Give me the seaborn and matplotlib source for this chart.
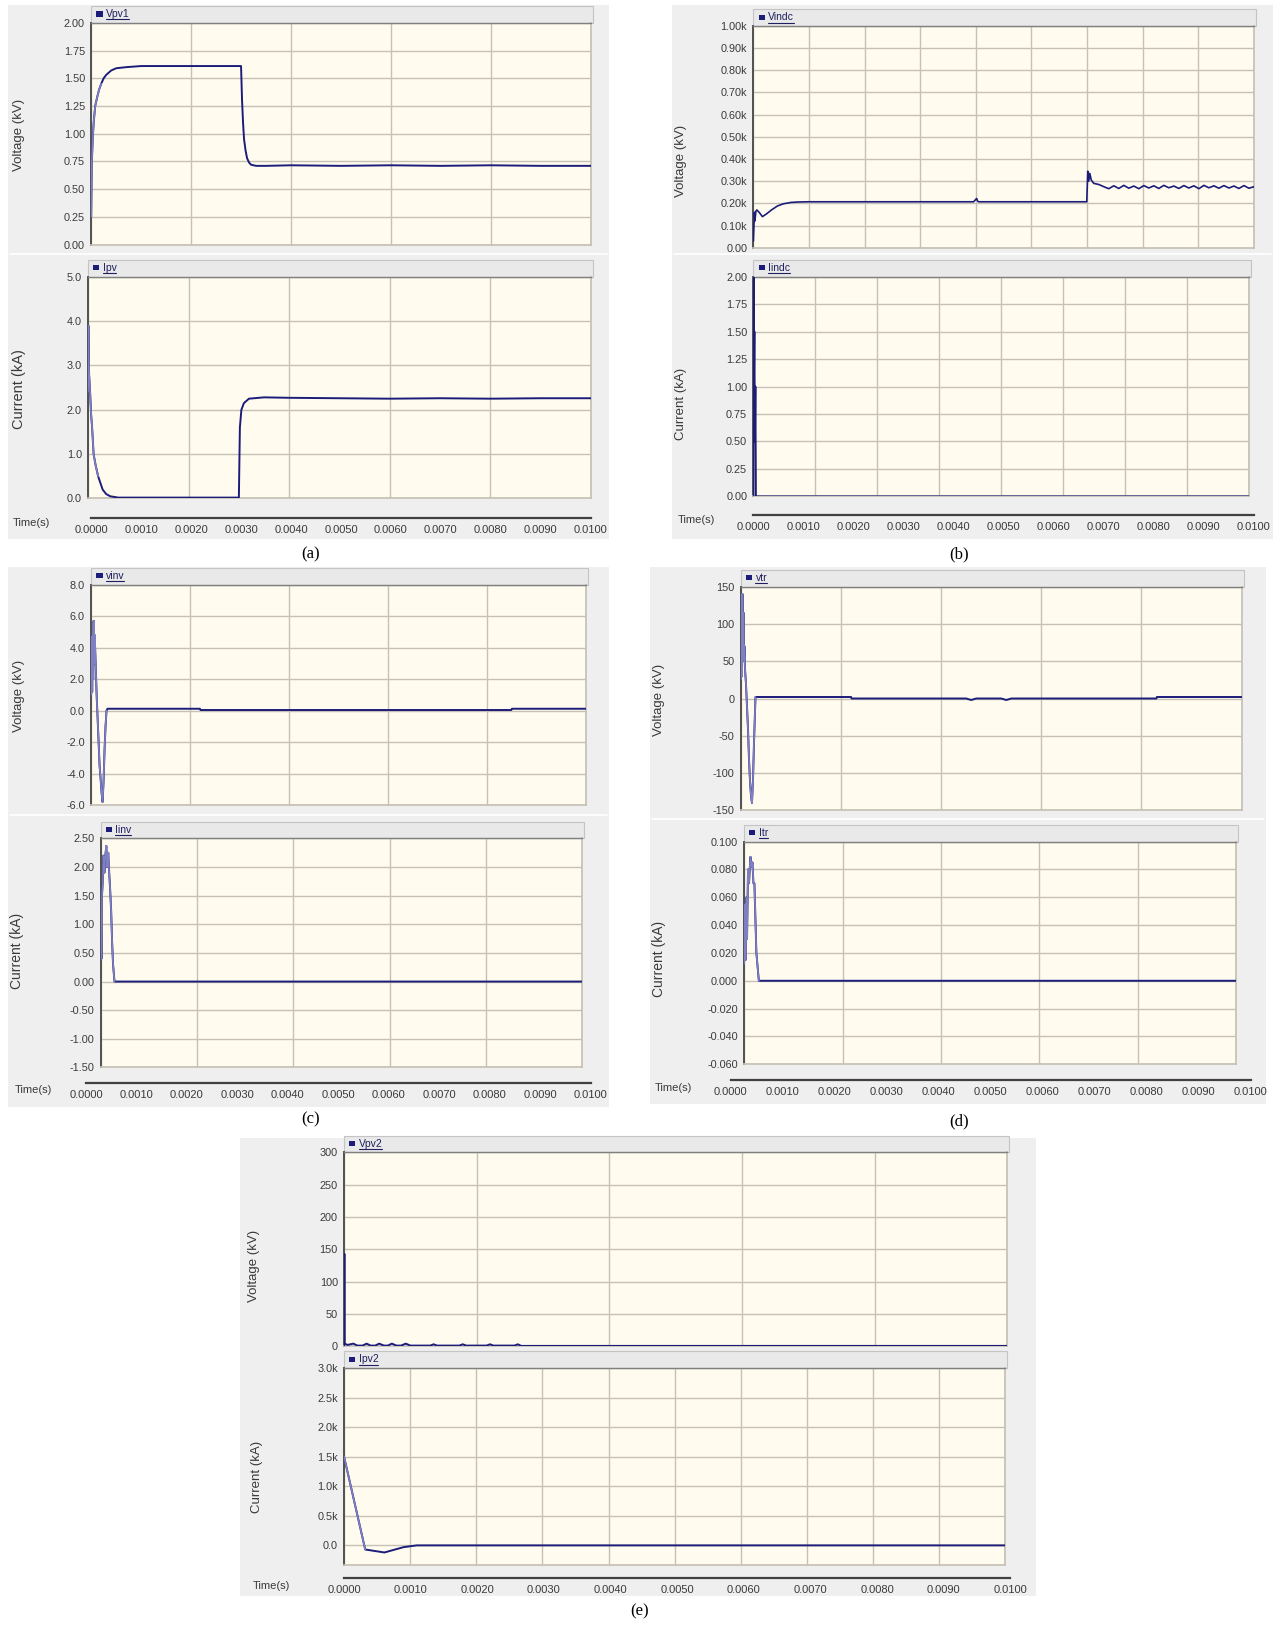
import numpy as np
import matplotlib
matplotlib.use('Agg')
import matplotlib.pyplot as plt
from matplotlib.patches import Rectangle
from matplotlib.lines import Line2D
import seaborn as sns

# ---------------- valores ----------------
# eixo do tempo (comum)
t_ticks = [0.0, 0.001, 0.002, 0.003, 0.004, 0.005, 0.006, 0.007, 0.008, 0.009, 0.010]
t_labels = ['0.0000', '0.0010', '0.0020', '0.0030', '0.0040', '0.0050',
            '0.0060', '0.0070', '0.0080', '0.0090', '0.0100']

# (a) Vpv1 [kV]
t_vpv1 = [0, 0.00001, 0.00003, 0.00005, 0.00008, 0.00012, 0.00016, 0.0002, 0.00025, 0.0003,
          0.0004, 0.0005, 0.0007, 0.001, 0.002, 0.00300, 0.00302, 0.00304, 0.00306, 0.00309,
          0.00312, 0.00316, 0.0032, 0.0033, 0.0035, 0.004, 0.005, 0.006, 0.007, 0.008, 0.009, 0.01]
vpv1 = [0.25, 0.70, 0.95, 1.10, 1.25, 1.33, 1.40, 1.45, 1.50, 1.53,
        1.57, 1.59, 1.60, 1.61, 1.61, 1.61, 1.30, 1.10, 0.95, 0.85,
        0.78, 0.74, 0.72, 0.71, 0.71, 0.715, 0.71, 0.715, 0.71, 0.715, 0.71, 0.71]
yt_vpv1 = [0, 0.25, 0.5, 0.75, 1.0, 1.25, 1.5, 1.75, 2.0]
yl_vpv1 = ['0.00', '0.25', '0.50', '0.75', '1.00', '1.25', '1.50', '1.75', '2.00']

# (a) Ipv [kA]
t_ipv = [0, 0.000005, 0.00002, 0.00004, 0.00006, 0.00008, 0.00011, 0.00015, 0.0002, 0.00029,
         0.00036, 0.00044, 0.0006, 0.0030, 0.00302, 0.00305, 0.0031, 0.0032, 0.0035,
         0.004, 0.005, 0.006, 0.007, 0.008, 0.009, 0.01]
ipv = [2.4, 3.9, 2.8, 2.4, 1.9, 1.6, 1.0, 0.75, 0.5, 0.2,
       0.1, 0.05, 0.02, 0.02, 1.6, 2.0, 2.15, 2.25, 2.28,
       2.27, 2.26, 2.25, 2.26, 2.25, 2.26, 2.26]
yt_ipv = [0, 1, 2, 3, 4, 5]
yl_ipv = ['0.0', '1.0', '2.0', '3.0', '4.0', '5.0']

# (b) Vindc [kV]
t_vindc = [0, 0.00002, 0.00003, 0.00005, 0.00007, 0.00012, 0.00018, 0.00026, 0.00036, 0.00048,
           0.0006, 0.00075, 0.0009, 0.0011, 0.0044, 0.00446, 0.00448, 0.0045, 0.00666, 0.00668,
           0.00670, 0.00672, 0.00675, 0.00680, 0.00690, 0.0070,
           0.0071, 0.0072, 0.0073, 0.0074, 0.0075, 0.0076, 0.0077, 0.0078, 0.0079, 0.0080,
           0.0081, 0.0082, 0.0083, 0.0084, 0.0085, 0.0086, 0.0087, 0.0088, 0.0089, 0.0090,
           0.0091, 0.0092, 0.0093, 0.0094, 0.0095, 0.0096, 0.0097, 0.0098, 0.0099, 0.0100]
vindc = [30, 160, 120, 165, 170, 158, 140, 152, 170, 188,
         198, 204, 206, 207, 207, 222, 210, 207, 207, 345,
         300, 335, 305, 290, 285, 275,
         266, 279, 267, 281, 268, 278, 266, 280, 269, 279,
         267, 281, 270, 278, 267, 280, 269, 279, 266, 281,
         270, 279, 268, 280, 269, 278, 267, 280, 268, 275]
yt_vindc = [0, 100, 200, 300, 400, 500, 600, 700, 800, 900, 1000]
yl_vindc = ['0.00', '0.10k', '0.20k', '0.30k', '0.40k', '0.50k',
            '0.60k', '0.70k', '0.80k', '0.90k', '1.00k']

# (b) Iindc [kA]
t_iindc = [0, 0.000005, 0.00001, 0.00002, 0.00003, 0.00004, 0.00005, 0.01]
iindc = [0, 2.0, 1.0, 1.5, 0.5, 1.0, 0.0, 0.0]
yt_iindc = [0, 0.25, 0.5, 0.75, 1.0, 1.25, 1.5, 1.75, 2.0]
yl_iindc = ['0.00', '0.25', '0.50', '0.75', '1.00', '1.25', '1.50', '1.75', '2.00']

# (c) vinv [kV]
t_vinv = [0, 0.00001, 0.00002, 0.00003, 0.00004, 0.00005, 0.00006, 0.00007, 0.00009, 0.00011,
          0.00013, 0.00015, 0.00017, 0.00019, 0.00021, 0.00023, 0.00025, 0.00027, 0.00029,
          0.00031, 0.00033, 0.0022, 0.00221, 0.0085, 0.00851, 0.01]
vinv = [1.0, 4.7, 1.2, 4.8, 2.0, 5.7, 3.0, 4.8, 3.0, 1.0,
        -0.5, -2.0, -3.5, -4.3, -5.2, -5.8, -4.5, -2.5, -1.0,
        0.0, 0.12, 0.12, 0.04, 0.04, 0.12, 0.12]
yt_vinv = [-6, -4, -2, 0, 2, 4, 6, 8]
yl_vinv = ['-6.0', '-4.0', '-2.0', '0.0', '2.0', '4.0', '6.0', '8.0']

# (c) Iinv [kA]
t_iinv = [0, 0.00001, 0.00002, 0.00003, 0.00005, 0.00006, 0.00008, 0.0001, 0.00012, 0.00014,
          0.00016, 0.00018, 0.0002, 0.00022, 0.00024, 0.00026, 0.00029, 0.01]
iinv = [0.35, 1.0, 0.4, 1.5, 1.8, 2.2, 1.9, 2.2, 2.37, 2.0,
        2.25, 1.9, 1.6, 1.25, 0.7, 0.3, 0.0, 0.0]
yt_iinv = [-1.5, -1.0, -0.5, 0, 0.5, 1.0, 1.5, 2.0, 2.5]
yl_iinv = ['-1.50', '-1.00', '-0.50', '0.00', '0.50', '1.00', '1.50', '2.00', '2.50']

# (d) vtr [kV]
t_vtr = [0, 0.00001, 0.00002, 0.00003, 0.00004, 0.00005, 0.00006, 0.00007, 0.00008, 0.0001,
         0.00012, 0.00014, 0.00016, 0.00018, 0.0002, 0.00022, 0.00024, 0.00026, 0.00029,
         0.0022, 0.00221, 0.0045, 0.0046, 0.0047, 0.0052, 0.0053, 0.0054, 0.0083, 0.00831, 0.01]
vtr = [25, 140, 30, 140, 60, 115, 50, 70, 40, 20,
       -10, -40, -80, -110, -130, -140, -110, -60, 2,
       2, 0, 0, -2, 0, 0, -2, 0, 0, 2, 2]
yt_vtr = [-150, -100, -50, 0, 50, 100, 150]
yl_vtr = ['-150', '-100', '-50', '0', '50', '100', '150']

# (d) Itr [kA]
t_itr = [0, 0.00002, 0.00003, 0.00005, 0.00006, 0.00008, 0.0001, 0.00012, 0.00013, 0.00015,
         0.00017, 0.00019, 0.00021, 0.00023, 0.00025, 0.00028, 0.0003, 0.01]
itr = [0.012, 0.055, 0.015, 0.06, 0.03, 0.08, 0.07, 0.083, 0.089, 0.082,
       0.085, 0.07, 0.07, 0.045, 0.02, 0.008, 0.0, 0.0]
yt_itr = [-0.06, -0.04, -0.02, 0, 0.02, 0.04, 0.06, 0.08, 0.10]
yl_itr = ['-0.060', '-0.040', '-0.020', '0.000', '0.020', '0.040', '0.060', '0.080', '0.100']

# (e) Vpv2 [kV]
t_vpv2 = [0, 0.000005, 0.00001, 0.00005, 0.00014, 0.0002, 0.00028, 0.00034, 0.0004, 0.00047,
          0.00053, 0.0006, 0.00066, 0.00072, 0.00079, 0.00086, 0.00093, 0.001, 0.0013, 0.00135,
          0.0014, 0.00174, 0.00179, 0.00184, 0.00215, 0.0022, 0.00225, 0.00257, 0.00262, 0.00267, 0.01]
vpv2 = [0, 143, 4, 2, 4, 1, 1, 4, 1, 1,
        4, 1, 1, 4, 1, 1, 4, 1, 1, 3,
        1, 1, 3, 1, 1, 3, 1, 1, 3, 0.5, 0.5]
yt_vpv2 = [0, 50, 100, 150, 200, 250, 300]
yl_vpv2 = ['0', '50', '100', '150', '200', '250', '300']

# (e) Ipv2 [kA]
t_ipv2 = [0, 0.00032, 0.00061, 0.0009, 0.0011, 0.01]
ipv2 = [1500, -70, -120, -30, 0, 0]
yt_ipv2 = [0, 500, 1000, 1500, 2000, 2500, 3000]
yl_ipv2 = ['0.0', '0.5k', '1.0k', '1.5k', '2.0k', '2.5k', '3.0k']

# ---------------- estilo ----------------
sns.set_theme(style='white')
plt.rcParams['font.family'] = ['Liberation Sans', 'DejaVu Sans']

CINZA = '#efefef'
FAIXA = '#e9e9e9'
CREME = '#fffcef'
GRADE = '#c6c1b4'
LINHA = '#1c1c7a'
CLARO = '#7f7fc4'   # transitorio rapido aparece mais claro no original
TXT = '#3a3a3a'

RW, RH = 1239.0, 1568.0   # coordenadas de referencia (px)


def fx(x):
    return x / RW


def fy(y):
    return 1 - y / RH


def caixa(l, t, r, b):
    return [fx(l), fy(b), (r - l) / RW, (b - t) / RH]


fig = plt.figure(figsize=(12.84, 16.25), dpi=100)
renderer = fig.canvas.get_renderer()


def retangulo(l, t, r, b, cor, borda='none', z=-5):
    fig.patches.append(Rectangle((fx(l), fy(b)), (r - l) / RW, (b - t) / RH,
                                 transform=fig.transFigure, facecolor=cor,
                                 edgecolor=borda, lw=0.8, zorder=z))


def grafico(box, nome, t, y, ylim, yt, yl, ncol, ylab, ylab_xy, ylab_fs, lw=1.4, n_claro=0):
    l, top, r, b = box
    # faixa da legenda
    retangulo(l, top - 16, r + 2, top, FAIXA, borda='#c4c4c4', z=-4)
    fig.patches.append(Rectangle((fx(l + 5), fy(top - 6)), 6 / RW, 5 / RH,
                                 transform=fig.transFigure, facecolor=LINHA,
                                 edgecolor='none', zorder=3))
    txt = fig.text(fx(l + 14), fy(top - 8.5), nome, fontsize=7.5, color='#202060',
                   va='center', ha='left')
    # sublinhado do nome
    bb = txt.get_window_extent(renderer).transformed(fig.transFigure.inverted())
    fig.lines.append(Line2D([bb.x0, bb.x1], [bb.y0 - 0.0003, bb.y0 - 0.0003],
                            transform=fig.transFigure, color='#202060', lw=0.8))

    ax = fig.add_axes(caixa(l, top, r, b))
    ax.set_facecolor(CREME)
    sns.lineplot(x=t, y=y, ax=ax, color=LINHA, lw=lw, estimator=None, sort=False, zorder=3)
    if n_claro:
        sns.lineplot(x=t[:n_claro], y=y[:n_claro], ax=ax, color=CLARO, lw=1.2,
                     estimator=None, sort=False, zorder=4)
    ax.set_xlim(0, 0.01)
    ax.set_ylim(*ylim)
    ax.set_xticks(np.linspace(0, 0.01, ncol + 1))
    ax.set_xticklabels([])
    ax.set_yticks(yt)
    ax.set_yticklabels(yl)
    ax.set_xlabel('')
    ax.set_ylabel('')
    ax.grid(True, color=GRADE, lw=1.0)
    ax.tick_params(axis='x', length=0)
    ax.tick_params(axis='y', direction='out', length=3, width=0.8, color='#505050',
                   labelsize=7.8, labelcolor=TXT, pad=1.5)
    ax.spines['left'].set_color('#505050')
    ax.spines['left'].set_linewidth(1.4)
    ax.spines['top'].set_color('#808080')
    ax.spines['top'].set_linewidth(1.0)
    ax.spines['right'].set_color(GRADE)
    ax.spines['bottom'].set_color(GRADE)
    fig.text(fx(ylab_xy[0]), fy(ylab_xy[1]), ylab, rotation=90, fontsize=ylab_fs,
             color=TXT, ha='center', va='center')
    return ax


def eixo_tempo(l, r, y, lab_xy):
    axt = fig.add_axes(caixa(l, y - 2, r, y))
    axt.patch.set_alpha(0)
    axt.set_xlim(0, 0.01)
    axt.set_ylim(0, 1)
    axt.set_xticks(t_ticks)
    axt.set_xticklabels(t_labels)
    axt.set_yticks([])
    for s in ['top', 'left', 'right']:
        axt.spines[s].set_visible(False)
    axt.spines['bottom'].set_color('#404040')
    axt.spines['bottom'].set_linewidth(1.6)
    axt.tick_params(axis='x', direction='out', length=3.5, width=1, color='#404040',
                    labelsize=8, labelcolor=TXT, pad=1.5)
    fig.text(fx(lab_xy[0]), fy(lab_xy[1]), 'Time(s)', fontsize=8, color=TXT,
             ha='center', va='center')


def rotulo(x, y, s):
    fig.text(fx(x), fy(y), s, fontsize=12, family=['Liberation Serif', 'DejaVu Serif'],
             ha='center', va='center', color='black')


# ---------------- (a) ----------------
retangulo(8, 5, 588, 520, CINZA)
fig.lines.append(Line2D([fx(10), fx(586)], [fy(245), fy(245)], transform=fig.transFigure,
                        color='white', lw=1.2))
grafico((88, 22, 570, 236), 'Vpv1', t_vpv1, vpv1, (0, 2.0), yt_vpv1, yl_vpv1, 5,
        'Voltage (kV)', (18, 130), 9.5, n_claro=8)
grafico((85, 267, 570, 481), 'Ipv', t_ipv, ipv, (0, 5.0), yt_ipv, yl_ipv, 5,
        'Current (kA)', (18, 375), 10.5, n_claro=9)
eixo_tempo(88, 570, 500, (30, 505))
rotulo(300, 535, '(a)')

# ---------------- (b) ----------------
retangulo(648, 5, 1228, 520, CINZA)
fig.lines.append(Line2D([fx(650), fx(1226)], [fy(245), fy(245)], transform=fig.transFigure,
                        color='white', lw=1.2))
grafico((727, 25, 1210, 239), 'Vindc', t_vindc, vindc, (0, 1000), yt_vindc, yl_vindc, 9,
        'Voltage (kV)', (657, 155), 9.5, lw=1.2)
grafico((727, 267, 1205, 479), 'Iindc', t_iindc, iindc, (0, 2.0), yt_iindc, yl_iindc, 8,
        'Current (kA)', (657, 390), 9.5)
eixo_tempo(727, 1210, 497, (672, 502))
rotulo(925, 535, '(b)')

# ---------------- (c) ----------------
retangulo(8, 547, 588, 1068, CINZA)
fig.lines.append(Line2D([fx(10), fx(586)], [fy(786), fy(786)], transform=fig.transFigure,
                        color='white', lw=1.2))
grafico((88, 564, 565, 777), 'vinv', t_vinv, vinv, (-6, 8), yt_vinv, yl_vinv, 5,
        'Voltage (kV)', (18, 672), 9.5, n_claro=20)
grafico((97, 809, 562, 1030), 'Iinv', t_iinv, iinv, (-1.5, 2.5), yt_iinv, yl_iinv, 5,
        'Current (kA)', (16, 918), 10, n_claro=17)
eixo_tempo(83, 570, 1045, (32, 1052))
rotulo(300, 1080, '(c)')

# ---------------- (d) ----------------
retangulo(627, 547, 1222, 1065, CINZA)
fig.lines.append(Line2D([fx(629), fx(1220)], [fy(790), fy(790)], transform=fig.transFigure,
                        color='white', lw=1.2))
grafico((715, 566, 1198, 782), 'vtr', t_vtr, vtr, (-150, 150), yt_vtr, yl_vtr, 5,
        'Voltage (kV)', (636, 675), 9.5, n_claro=19)
grafico((718, 812, 1193, 1027), 'Itr', t_itr, itr, (-0.06, 0.10), yt_itr, yl_itr, 5,
        'Current (kA)', (636, 925), 10, n_claro=17)
eixo_tempo(705, 1207, 1042, (650, 1050))
rotulo(925, 1082, '(d)')

# ---------------- (e) ----------------
retangulo(232, 1098, 1000, 1540, CINZA)
grafico((332, 1112, 972, 1299), 'Vpv2', t_vpv2, vpv2, (0, 300), yt_vpv2, yl_vpv2, 5,
        'Voltage (kV)', (245, 1222), 9.5)
grafico((332, 1320, 970, 1510), 'Ipv2', t_ipv2, ipv2, (-330, 3000), yt_ipv2, yl_ipv2, 10,
        'Current (kA)', (248, 1425), 9.5, n_claro=2)
eixo_tempo(332, 975, 1523, (262, 1530))
rotulo(617, 1555, '(e)')

fig.savefig('out.png', dpi=100, facecolor='white')
